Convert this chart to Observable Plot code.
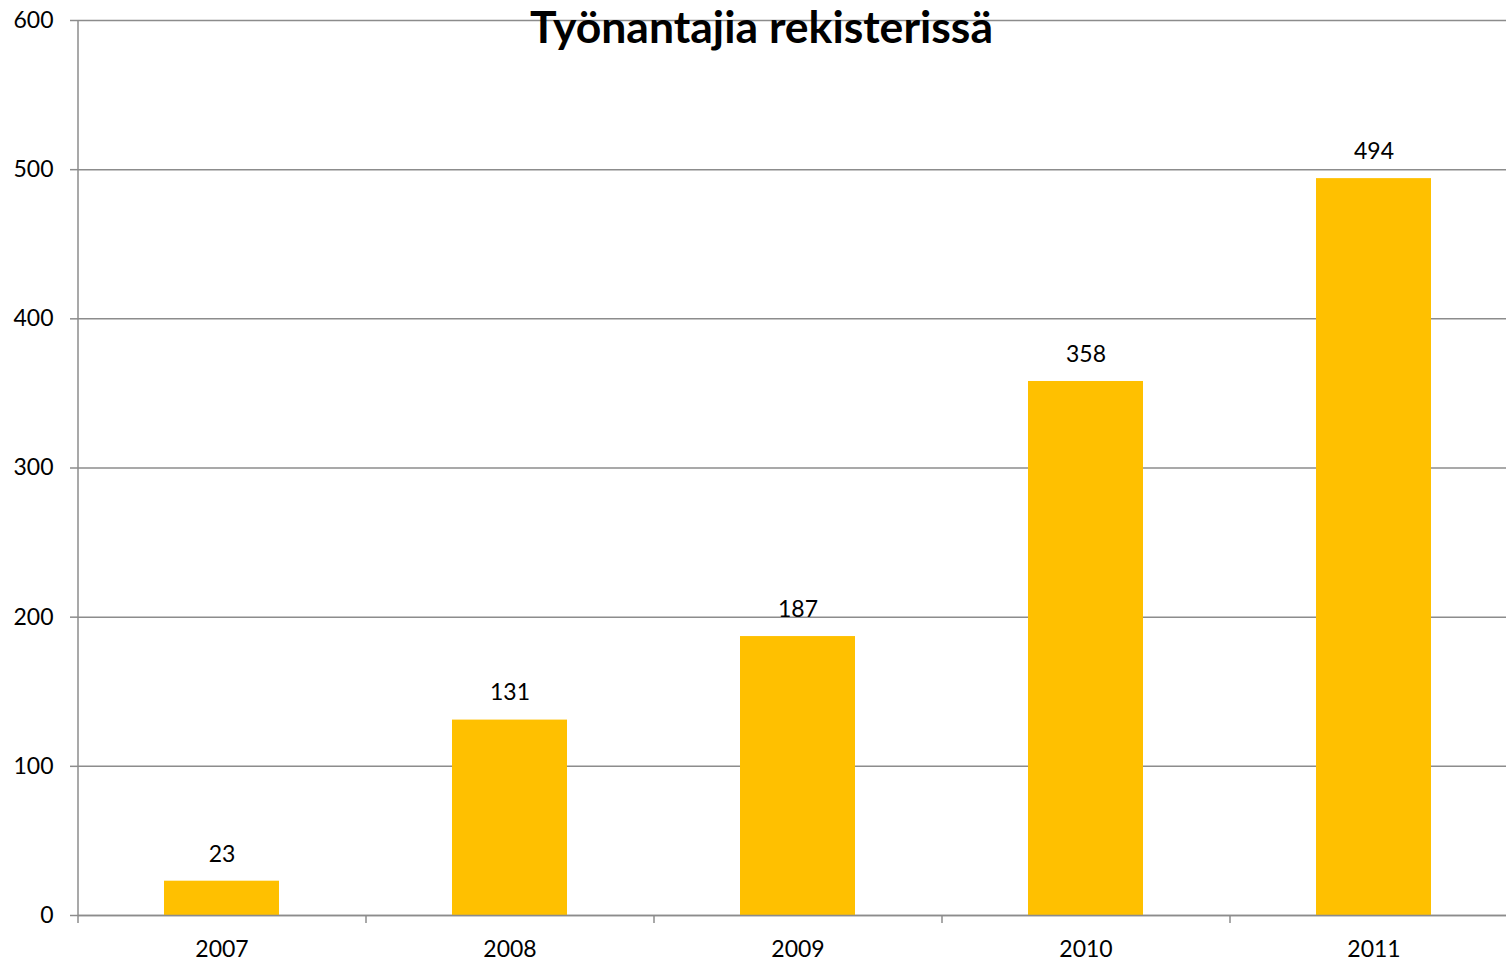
<!DOCTYPE html>
<html>
<head>
<meta charset="utf-8">
<script src="https://cdn.jsdelivr.net/npm/d3@7"></script>
<script src="https://cdn.jsdelivr.net/npm/@observablehq/plot@0.6"></script>
<style>
  html, body { margin: 0; padding: 0; background: #fff; overflow: hidden; width: 1506px; height: 964px; }
  #wrap { position: relative; width: 1506px; height: 964px; overflow: hidden; }
  #chart svg { max-width: none !important; }
  #title { position: absolute; left: 530px; top: -1px; font-family: Lato, sans-serif; font-weight: bold; font-size: 44.5px; line-height: 54px; color: #000; white-space: nowrap; }
</style>
</head>
<body>
<div id="wrap">
  <div id="chart"></div>
  <div id="title">Työnantajia rekisterissä</div>
</div>
<script>
const years = ["2007", "2008", "2009", "2010", "2011"];
const values = [23, 131, 187, 358, 494];
const yTicks = [0, 100, 200, 300, 400, 500, 600];

const data = years.map((y, i) => ({year: y, value: values[i]}));
const W = 1518, H = 964, ML = 78, MR = 0, MT = 20, MB = 49;
const half = (W - ML - MR) / years.length / 2;

const chart = Plot.plot({
  width: W,
  height: H,
  marginLeft: ML,
  marginRight: MR,
  marginTop: MT,
  marginBottom: MB,
  style: {fontFamily: "Lato, sans-serif", background: "white", overflow: "visible", maxWidth: "none"},
  x: {domain: years, paddingInner: 0.6, paddingOuter: 0.3, label: null},
  y: {domain: [0, 600], label: null},
  marks: [
    Plot.gridY(yTicks, {stroke: "#8c8c8c", strokeOpacity: 1, strokeWidth: 1.5}),
    Plot.barY(data, {x: "year", y: "value", fill: "#FFC000"}),
    Plot.ruleX([years[0]], {dx: -half, y1: 0, y2: 600, stroke: "#8c8c8c", strokeWidth: 1.5}),
    Plot.ruleY([0], {stroke: "#8c8c8c", strokeWidth: 1.5}),
    Plot.axisY({ticks: yTicks, tickSize: 8, tickPadding: 17, fontSize: 23, stroke: "#8c8c8c", strokeWidth: 1.5, color: "#000", label: null}),
    Plot.axisX({tickSize: 8, dx: -half, tickFormat: () => "", stroke: "#8c8c8c", strokeWidth: 1.5, label: null}),
    Plot.axisX({tickSize: 0, tickPadding: 25, fontSize: 23, color: "#000", label: null}),
    Plot.text(data, {x: "year", y: "value", text: d => String(d.value), dy: -27, fontSize: 23, fill: "#000"})
  ]
});
document.getElementById("chart").appendChild(chart);
</script>
</body>
</html>
